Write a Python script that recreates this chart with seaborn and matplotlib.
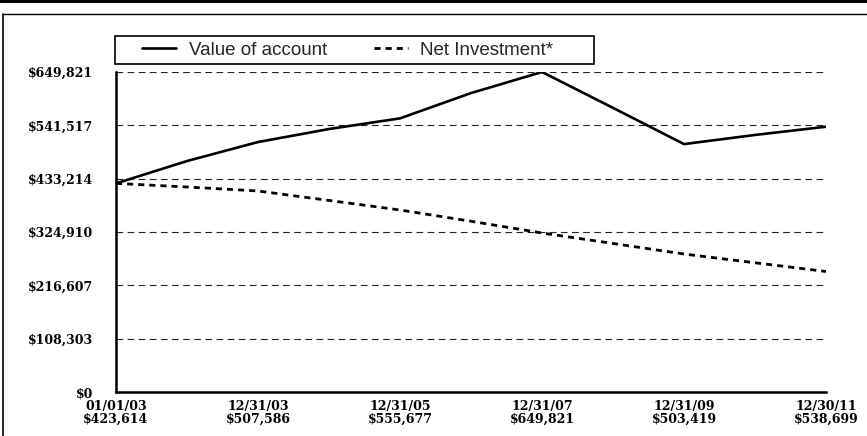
import matplotlib
matplotlib.use("Agg")
import matplotlib.pyplot as plt
from matplotlib.lines import Line2D
from matplotlib.patches import Rectangle
import seaborn as sns
import pandas as pd

# ------------------------------------------------------------------
# data
# ------------------------------------------------------------------
tick_dates = ["01/01/03", "12/31/03", "12/31/05", "12/31/07", "12/31/09", "12/30/11"]
tick_values = ["$423,614", "$507,586", "$555,677", "$649,821", "$503,419", "$538,699"]

# statement period index (one step per labelled date, half steps in between)
period = [0, 0.5, 1, 1.5, 2, 2.5, 3, 3.5, 4, 4.5, 5]
account_value = [423614, 469000, 507586, 534000, 555677, 607000,
                 649821, 577000, 503419, 522000, 538699]
net_investment = [423614, 416300, 408200, 389000, 369600, 346700,
                  322900, 301600, 280200, 262400, 244700]

y_ticks = [0, 108303, 216607, 324910, 433214, 541517, 649821]
y_labels = ["$0", "$108,303", "$216,607", "$324,910", "$433,214", "$541,517", "$649,821"]

df = pd.DataFrame({"period": period,
                   "Value of account": account_value,
                   "Net Investment*": net_investment})

# ------------------------------------------------------------------
# figure
# ------------------------------------------------------------------
sns.set_style("white")
W, H = 867, 436
fig = plt.figure(figsize=(W / 100, H / 100), dpi=100)
ax = fig.add_axes([116 / W, 1 - 392 / H, 710 / W, 320 / H])

sns.lineplot(data=df, x="period", y="Value of account", ax=ax,
             color="black", lw=1.9, label="Value of account")
sns.lineplot(data=df, x="period", y="Net Investment*", ax=ax,
             color="black", lw=2.0, linestyle=(0, (2.2, 1.8)),
             label="Net Investment*")

ax.set_xlim(0, 5)
ax.set_ylim(0, 649821)
ax.set_xlabel("")
ax.set_ylabel("")

label_font = dict(family="DejaVu Serif", weight="bold", size=9)
ax.set_yticks(y_ticks)
ax.set_yticklabels(y_labels, fontdict=label_font)
ax.set_xticks(range(len(tick_dates)))
ax.set_xticklabels([f"{d}\n{v}" for d, v in zip(tick_dates, tick_values)],
                   fontdict=label_font, linespacing=1.05)
ax.tick_params(axis="y", length=0, pad=16.5, colors="black")
ax.tick_params(axis="x", length=4, width=1.2, direction="out", pad=1.5, colors="black")

ax.yaxis.grid(True, color="#222222", lw=0.8, linestyle=(0, (6, 4)))
ax.xaxis.grid(False)
for side in ["top", "right"]:
    ax.spines[side].set_visible(False)
for side in ["left", "bottom"]:
    ax.spines[side].set_color("black")
    ax.spines[side].set_linewidth(1.8)

# legend in a drawn box above the plot
handles, labels = ax.get_legend_handles_labels()
ax.legend(handles, labels, ncol=2, frameon=False,
          loc="center left", bbox_to_anchor=(142 / W, 1 - 50 / H),
          bbox_transform=fig.transFigure, borderpad=0, borderaxespad=0,
          handlelength=1.83, handletextpad=0.66, columnspacing=2.5,
          prop=dict(family="Liberation Sans", size=13.5))
fig.add_artist(Rectangle((115 / W, 1 - 64 / H), 479 / W, 28 / H,
                         transform=fig.transFigure, fill=False,
                         edgecolor="black", lw=1.2))

# page frame from the scanned statement
fig.add_artist(Line2D([0, 1], [1 - 1 / H, 1 - 1 / H], transform=fig.transFigure,
                      color="black", lw=2.2))
fig.add_artist(Line2D([3 / W, 1], [1 - 14 / H, 1 - 14 / H], transform=fig.transFigure,
                      color="black", lw=1.0))
fig.add_artist(Line2D([3 / W, 3 / W], [0, 1 - 14 / H], transform=fig.transFigure,
                      color="black", lw=1.2))

fig.savefig("out.png", dpi=100)
